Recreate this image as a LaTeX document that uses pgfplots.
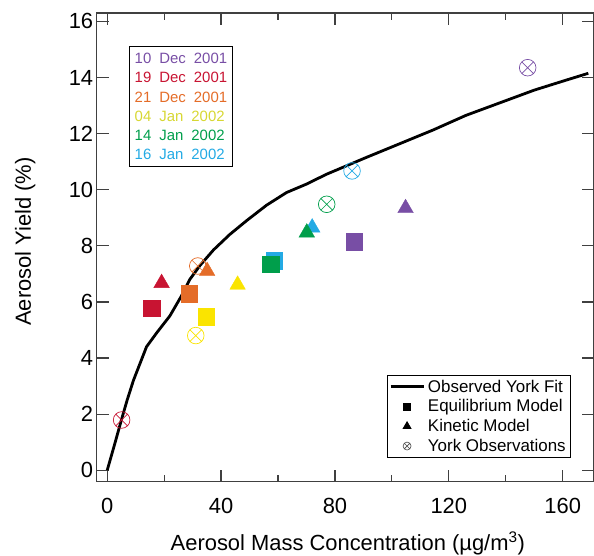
\documentclass[border=0pt]{standalone}
\usepackage{pgfplots}
\pgfplotsset{compat=1.18}
\usepackage{pgfplotstable}
\usepackage{fontspec}
\setmainfont{Liberation Sans}
\definecolor{cpu}{RGB}{120,78,165}
\definecolor{cre}{RGB}{200,20,50}
\definecolor{cor}{RGB}{228,108,40}
\definecolor{cye}{RGB}{250,228,0}
\definecolor{cyt}{RGB}{215,215,50}
\definecolor{cgr}{RGB}{0,158,75}
\definecolor{cbl}{RGB}{35,170,228}
\newcommand\sps{\hspace{8bp}}

\pgfplotstableread{
x y
0 0
2.7 0.96
5 1.8
7 2.5
9.2 3.2
11.5 3.8
13.8 4.4
17.4 4.9
22 5.5
26 6.2
29 6.8
32.6 7.3
37.3 7.85
43 8.4
49 8.9
56 9.45
63 9.9
70 10.2
77 10.55
84 10.85
91 11.15
103 11.65
114.5 12.13
126 12.65
138 13.1
150 13.55
161 13.9
169 14.15
}\fitdata

\pgfplotstableread{
x y c
15.6 5.78 re
28.8 6.29 or
34.7 5.48 ye
58.6 7.46 bl
57.4 7.35 gr
86.8 8.14 pu
}\sqdata

\pgfplotstableread{
x y c
19.1 6.67 re
35.1 7.10 or
45.8 6.61 ye
72.0 8.65 bl
70.1 8.47 gr
104.8 9.34 pu
}\tridata

\pgfplotstableread{
x y c
5.06 1.79 re
31.8 7.28 or
31.1 4.80 ye
77.1 9.48 gr
86.0 10.67 bl
147.7 14.35 pu
}\obsdata

\begin{document}
\begin{tikzpicture}
\begin{axis}[
  name=ax,
  scale only axis,
  width=497.3bp, height=468.7bp,
  xmin=-3.7, xmax=171, ymin=-0.41, ymax=16.3,
  xtick={0,40,...,160}, minor xtick={20,60,100,140},
  ytick={0,2,...,16},
  tick align=inside,
  major tick length=12bp, minor tick length=7bp,
  every tick/.style={black!75, line width=1.2bp},
  axis line style={black!75, line width=1.2bp},
  tick label style={font=\fontsize{22}{26}\selectfont},
  xticklabel style={yshift=-13bp},
  label style={font=\fontsize{22}{26}\selectfont},
  /pgf/number format/assume math mode=true,
  xlabel={Aerosol Mass Concentration (µg/m\textsuperscript{3})},
  ylabel={Aerosol Yield (\%)},
  xlabel style={at={(axis description cs:0.505,-0.132)}, anchor=center},
  ylabel style={at={(axis description cs:-0.144,0.5125)}, anchor=center, rotate=0},
  legend style={at={(rel axis cs:0.954,0.052)}, anchor=south east, draw=black,
    line width=0.8bp, font=\fontsize{17}{20}\selectfont,
    inner xsep=2bp, inner ysep=3bp, row sep=4bp, cells={anchor=west},
    nodes={inner xsep=3bp, inner ysep=1bp}},
  mylegimg/.style={legend image code/.code={\draw[mark repeat=2,mark phase=2,##1] plot coordinates {(0bp,0bp) (16.5bp,0bp) (33bp,0bp)};}},
  scatter/classes={
    re={cre}, or={cor}, ye={cye}, gr={cgr}, bl={cbl}, pu={cpu}},
]
\addplot[black, line width=2.8bp, mylegimg] table[x=x,y=y] {\fitdata};
\addlegendentry{Observed York Fit}

\addplot[scatter, only marks, forget plot, mark=square*, mark size=8.3bp,
  scatter src=explicit symbolic] table[x=x,y=y,meta=c] {\sqdata};
\addplot[scatter, only marks, forget plot, mark=triangle*, mark size=9bp,
  scatter src=explicit symbolic] table[x=x,y=y,meta=c] {\tridata};
\addplot[scatter, only marks, forget plot, mark=otimes, mark size=8.3bp,
  mark options={line width=0.7bp},
  scatter src=explicit symbolic] table[x=x,y=y,meta=c] {\obsdata};

\addlegendimage{only marks, mark=square*, mark size=3.5bp, black, mylegimg}
\addlegendentry{Equilibrium Model}
\addlegendimage{only marks, mark=triangle*, mark size=4.5bp, black, mylegimg}
\addlegendentry{Kinetic Model}
\addlegendimage{only marks, mark=otimes, mark size=4bp, black!70, line width=0.6bp, mylegimg}
\addlegendentry{York Observations}

\node[draw=black, line width=0.8bp, anchor=north west, inner xsep=5bp, inner ysep=7bp,
  align=left, font=\fontsize{15}{19.2}\selectfont] at (rel axis cs:0.0656,0.9296)
  {\textcolor{cpu}{10\sps Dec\sps 2001}\\
   \textcolor{cre}{19\sps Dec\sps 2001}\\
   \textcolor{cor}{21\sps Dec\sps 2001}\\
   \textcolor{cyt}{04\sps Jan\sps 2002}\\
   \textcolor{cgr}{14\sps Jan\sps 2002}\\
   \textcolor{cbl}{16\sps Jan\sps 2002}};
\end{axis}
\pgfresetboundingbox
\path[use as bounding box] ([shift={(-96.7bp,-74.3bp)}]ax.south west) rectangle ([shift={(0bp,13bp)}]ax.north east);
\end{tikzpicture}
\end{document}
